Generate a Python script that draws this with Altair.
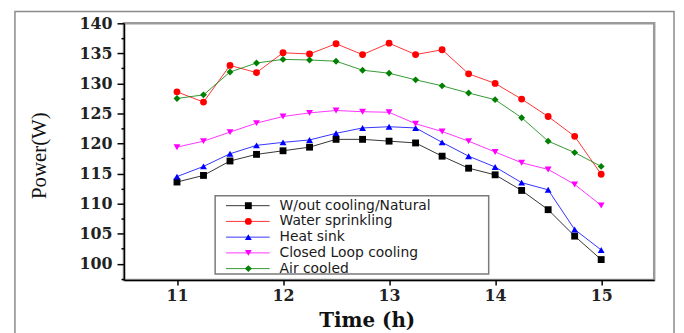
import altair as alt
import pandas as pd

times = [11.0, 11.25, 11.5, 11.75, 12.0, 12.25, 12.5, 12.75, 13.0,
         13.25, 13.5, 13.75, 14.0, 14.25, 14.5, 14.75, 15.0]
series_names = ["W/out cooling/Natural", "Water sprinkling", "Heat sink",
                "Closed Loop cooling", "Air cooled"]
wout = [113.6, 114.7, 117.1, 118.2, 118.8, 119.4, 120.7, 120.7, 120.4,
        120.1, 117.9, 115.9, 114.8, 112.2, 109.0, 104.6, 100.7]
water = [128.6, 126.9, 133.0, 131.8, 135.1, 134.9, 136.6, 134.8, 136.7,
         134.8, 135.6, 131.6, 130.0, 127.4, 124.5, 121.2, 114.9]
heat = [114.5, 116.2, 118.3, 119.7, 120.2, 120.6, 121.7, 122.6, 122.8,
        122.6, 120.2, 117.9, 116.1, 113.5, 112.3, 105.7, 102.3]
closed = [119.4, 120.4, 121.9, 123.4, 124.5, 125.1, 125.5, 125.3, 125.2,
          123.3, 122.0, 120.4, 118.6, 116.8, 115.7, 113.2, 109.7]
air = [127.5, 128.1, 131.9, 133.4, 134.0, 133.9, 133.7, 132.2, 131.7,
       130.6, 129.6, 128.4, 127.3, 124.3, 120.4, 118.5, 116.2]
x_ticks = [11, 11.5, 12, 12.5, 13, 13.5, 14, 14.5, 15]
y_ticks = [97.5, 100, 102.5, 105, 107.5, 110, 112.5, 115, 117.5, 120, 122.5,
           125, 127.5, 130, 132.5, 135, 137.5, 140]

colors = ["#000000", "#ff0000", "#0000ff", "#ff00ff", "#008000"]
shapes = ["square", "circle", "triangle-up", "triangle-down", "diamond"]

rows = []
for name, vals in zip(series_names, [wout, water, heat, closed, air]):
    for t, v in zip(times, vals):
        rows.append({"Time": t, "Power": v, "Series": name})
df = pd.DataFrame(rows)
leg_df = pd.DataFrame({"Series": series_names, "rank": list(range(len(series_names)))})

W, H = 535, 259
tick_font = "DejaVu Serif"

color_enc = alt.Color("Series:N", sort=series_names,
                      scale=alt.Scale(domain=series_names, range=colors), legend=None)
shape_enc = alt.Shape("Series:N", sort=series_names,
                      scale=alt.Scale(domain=series_names, range=shapes), legend=None)

x_enc = alt.X(
    "Time:Q",
    scale=alt.Scale(domain=[10.5, 15.5], nice=False, zero=False),
    axis=alt.Axis(
        title="Time (h)", values=x_ticks, format="d",
        labelExpr="datum.value % 1 === 0 ? datum.label : ''",
        tickSize={"condition": {"test": "datum.value % 1 !== 0", "value": 3}, "value": 5},
        labelFont=tick_font, labelFontWeight="bold", labelFontSize=16, labelColor="#222222",
        labelPadding=3, domainColor="#000000", domainWidth=1.5,
        tickColor="#000000", tickWidth=1.5, grid=False,
        titleFont="DejaVu Serif", titleFontWeight="bold", titleFontSize=20,
        titleColor="#111111", titleX=245, titleY=47, titleBaseline="alphabetic",
        titleAlign="center",
    ),
)
y_enc = alt.Y(
    "Power:Q",
    scale=alt.Scale(domain=[97.3, 140], nice=False, zero=False),
    axis=alt.Axis(
        title="Power(W)", values=y_ticks, format="d",
        labelExpr="datum.value % 5 === 0 ? datum.label : ''",
        tickSize={"condition": {"test": "datum.value % 5 !== 0", "value": 3}, "value": 7},
        labelFont=tick_font, labelFontWeight="bold", labelFontSize=16, labelColor="#222222",
        labelPadding=5, domainColor="#000000", domainWidth=1.5,
        tickColor="#000000", tickWidth=1.5, grid=False,
        titleFont="Liberation Serif", titleFontWeight="normal", titleFontSize=21,
        titleColor="#111111", titleX=-85, titleY=133, titleAngle=270,
        titleBaseline="middle", titleAlign="center",
    ),
)

lines = alt.Chart(df).mark_line(strokeWidth=1, opacity=0.8).encode(
    x=x_enc, y=y_enc, color=color_enc, detail="Series:N",
)
points = alt.Chart(df).mark_point(filled=True, size=48, opacity=1, strokeWidth=0).encode(
    x=x_enc, y=y_enc, color=color_enc, shape=shape_enc,
)

one = pd.DataFrame({"k": [0]})
outer = alt.Chart(one).mark_rect(fill="transparent", stroke="#8a8a8a", strokeWidth=1.5).encode(
    x=alt.value(-110), x2=alt.value(555), y=alt.value(-12), y2=alt.value(340)
)
legend_box = alt.Chart(one).mark_rect(fill="white", stroke="#7a7a7a", strokeWidth=1.5).encode(
    x=alt.value(92), x2=alt.value(368), y=alt.value(174), y2=alt.value(253)
)

main = alt.layer(outer, legend_box, lines, points)

leg_y = alt.Y("rank:Q", scale=alt.Scale(domain=[0, 4], range=[184, 247.5]), axis=None)
leg_lines = alt.Chart(leg_df).mark_rule(strokeWidth=1, opacity=0.8).encode(
    x=alt.value(103), x2=alt.value(147), y=leg_y, color=color_enc,
)
leg_pts = alt.Chart(leg_df).mark_point(filled=True, size=48, opacity=1, strokeWidth=0).encode(
    x=alt.value(125.5), y=leg_y, color=color_enc, shape=shape_enc,
)
leg_txt = alt.Chart(leg_df).mark_text(
    align="left", baseline="middle", font="DejaVu Sans", fontSize=14, color="#1a1a1a"
).encode(x=alt.value(157), y=leg_y, text="Series:N")
legend_layer = alt.layer(leg_lines, leg_pts, leg_txt)

chart = alt.layer(main, legend_layer).resolve_scale(y="independent").properties(
    width=W, height=H,
    autosize=alt.AutoSizeParams(type="none"),
    padding={"left": 117, "top": 14, "right": 22, "bottom": 52},
    background="white",
).configure_view(stroke="#9a9a9a", strokeWidth=2.5)

chart.save("out.html", embed_options={"renderer": "svg", "actions": False})
